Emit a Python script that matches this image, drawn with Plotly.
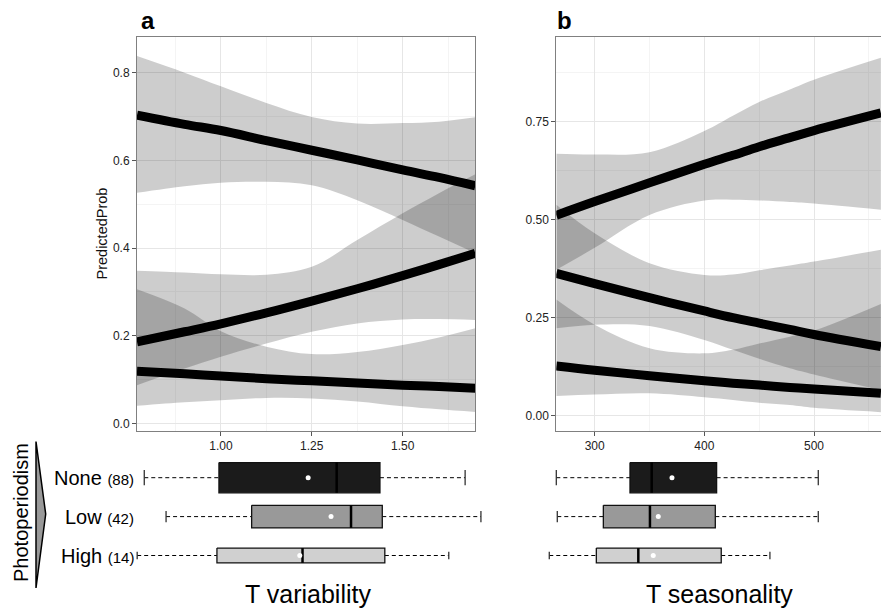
import plotly.graph_objects as go

# ---------------- data ----------------
# Panel a: predicted probability vs temperature variability
xa = [0.769, 0.9, 1.0, 1.125, 1.25, 1.375, 1.5, 1.6, 1.7]
a_top_fit = [0.703, 0.682, 0.668, 0.645, 0.623, 0.601, 0.578, 0.561, 0.542]
a_top_hi = [0.838, 0.800, 0.769, 0.731, 0.699, 0.684, 0.685, 0.688, 0.698]
a_top_lo = [0.526, 0.541, 0.549, 0.551, 0.543, 0.509, 0.464, 0.426, 0.388]
a_mid_fit = [0.186, 0.209, 0.227, 0.252, 0.279, 0.307, 0.337, 0.362, 0.388]
a_mid_hi = [0.348, 0.344, 0.340, 0.339, 0.357, 0.418, 0.479, 0.525, 0.568]
a_mid_lo = [0.087, 0.125, 0.152, 0.182, 0.209, 0.228, 0.237, 0.238, 0.236]
a_bot_fit = [0.119, 0.113, 0.108, 0.102, 0.097, 0.092, 0.087, 0.084, 0.080]
a_bot_hi = [0.306, 0.262, 0.210, 0.175, 0.158, 0.163, 0.179, 0.196, 0.217]
a_bot_lo = [0.040, 0.048, 0.053, 0.058, 0.057, 0.050, 0.039, 0.032, 0.026]

# Panel b: predicted probability vs temperature seasonality
xb = [265, 300, 350, 400, 426, 450, 478, 500, 561]
b_top_fit = [0.511, 0.546, 0.594, 0.641, 0.664, 0.686, 0.709, 0.727, 0.772]
b_top_hi = [0.668, 0.666, 0.672, 0.726, 0.765, 0.800, 0.832, 0.857, 0.913]
b_top_lo = [0.372, 0.428, 0.512, 0.549, 0.551, 0.549, 0.545, 0.541, 0.525]
b_mid_fit = [0.363, 0.337, 0.301, 0.267, 0.250, 0.236, 0.220, 0.207, 0.176]
b_mid_hi = [0.538, 0.465, 0.389, 0.359, 0.360, 0.371, 0.383, 0.393, 0.423]
b_mid_lo = [0.223, 0.232, 0.229, 0.193, 0.168, 0.145, 0.121, 0.105, 0.065]
b_bot_fit = [0.127, 0.116, 0.102, 0.089, 0.083, 0.078, 0.072, 0.068, 0.057]
b_bot_hi = [0.296, 0.232, 0.172, 0.159, 0.168, 0.184, 0.2015, 0.217, 0.285]
b_bot_lo = [0.050, 0.054, 0.057, 0.047, 0.040, 0.033, 0.027, 0.020, 0.009]

# Photoperiodism groups and sample sizes
groups = ["None", "Low", "High"]
group_n = [88, 42, 14]

# Box summaries for T variability
var_lo = [0.789, 0.849, 0.7695]
var_q1 = [0.9945, 1.0845, 0.989]
var_med = [1.3185, 1.358, 1.2245]
var_mean = [1.240, 1.303, 1.217]
var_q3 = [1.4376, 1.444, 1.451]
var_hi = [1.672, 1.7155, 1.627]

# Box summaries for T seasonality
sea_lo = [265.0, 265.9, 258.6]
sea_q1 = [332.2, 307.9, 301.5]
sea_med = [352.0, 350.4, 339.8]
sea_mean = [370.5, 358.0, 353.4]
sea_q3 = [411.2, 410.0, 415.4]
sea_hi = [503.9, 503.9, 459.8]
sea_out_x = [528.8, 559.2]
sea_out_group = ["None", "None"]

# ---------------- layout geometry ----------------
W, H = 881, 609
FONT = "Liberation Sans, Arial, Helvetica, sans-serif"


def px_x(p):
    return p / W


def px_y(p):
    return 1 - p / H


A_DOM = (137, 475.3)
B_DOM = (556.3, 881)
A_RANGE = (0.769, 1.700)
B_RANGE = (265.0, 561.1)
PANEL_Y = (37.3, 430.7)

BOX_FILL = {"None": "#1b1b1b", "Low": "#999999", "High": "#d0d0d0"}
BOX_HALF = {"None": 0.39, "Low": 0.29, "High": 0.19}
BAND = "rgba(0,0,0,0.195)"
GRID = "#e6e6e6"
GRID_MINOR = "#f4f4f4"
BORDER = "#808080"

fig = go.Figure()


def add_band(x, lo, hi, xa_, ya_):
    fig.add_trace(go.Scatter(x=x, y=lo, mode="lines", line=dict(width=0, shape="spline"),
                             xaxis=xa_, yaxis=ya_, showlegend=False, hoverinfo="skip"))
    fig.add_trace(go.Scatter(x=x, y=hi, mode="lines", line=dict(width=0, shape="spline"),
                             fill="tonexty", fillcolor=BAND,
                             xaxis=xa_, yaxis=ya_, showlegend=False, hoverinfo="skip"))


def add_fit(x, y, xa_, ya_):
    fig.add_trace(go.Scatter(x=x, y=y, mode="lines",
                             line=dict(color="black", width=9, shape="spline"),
                             xaxis=xa_, yaxis=ya_, showlegend=False))


for lo, hi in [(a_top_lo, a_top_hi), (a_mid_lo, a_mid_hi), (a_bot_lo, a_bot_hi)]:
    add_band(xa, lo, hi, "x", "y")
for fit in [a_top_fit, a_mid_fit, a_bot_fit]:
    add_fit(xa, fit, "x", "y")

for lo, hi in [(b_top_lo, b_top_hi), (b_mid_lo, b_mid_hi), (b_bot_lo, b_bot_hi)]:
    add_band(xb, lo, hi, "x2", "y2")
for fit in [b_top_fit, b_mid_fit, b_bot_fit]:
    add_fit(xb, fit, "x2", "y2")


def add_boxes(lo, q1, med, mean, q3, hi, xa_, ya_):
    for i, g in enumerate(groups):
        h = BOX_HALF[g]
        # whiskers
        fig.add_trace(go.Scatter(x=[lo[i], q1[i], None, q3[i], hi[i]], y=[i, i, None, i, i],
                                 mode="lines", line=dict(color="black", width=1, dash="4px,3px"),
                                 xaxis=xa_, yaxis=ya_, showlegend=False, hoverinfo="skip"))
        # staples
        fig.add_trace(go.Scatter(x=[lo[i], lo[i], None, hi[i], hi[i]],
                                 y=[i - h / 2, i + h / 2, None, i - h / 2, i + h / 2],
                                 mode="lines", line=dict(color="#333333", width=1.3),
                                 xaxis=xa_, yaxis=ya_, showlegend=False, hoverinfo="skip"))
        # box
        fig.add_trace(go.Scatter(x=[q1[i], q3[i], q3[i], q1[i], q1[i]],
                                 y=[i - h, i - h, i + h, i + h, i - h],
                                 mode="lines", fill="toself", fillcolor=BOX_FILL[g],
                                 line=dict(color="#111111", width=1.3),
                                 xaxis=xa_, yaxis=ya_, showlegend=False, hoverinfo="skip"))
        # median
        fig.add_trace(go.Scatter(x=[med[i], med[i]], y=[i - h, i + h], mode="lines",
                                 line=dict(color="black", width=2.5),
                                 xaxis=xa_, yaxis=ya_, showlegend=False, hoverinfo="skip"))
    # means
    fig.add_trace(go.Scatter(x=mean, y=list(range(len(groups))), mode="markers",
                             marker=dict(color="white", size=5, symbol="circle"),
                             xaxis=xa_, yaxis=ya_, showlegend=False))


add_boxes(var_lo, var_q1, var_med, var_mean, var_q3, var_hi, "x3", "y3")
add_boxes(sea_lo, sea_q1, sea_med, sea_mean, sea_q3, sea_hi, "x4", "y4")
fig.add_trace(go.Scatter(x=sea_out_x, y=[groups.index(g) for g in sea_out_group], mode="markers",
                         marker=dict(color="white", size=6, symbol="circle-open",
                                     line=dict(color="black", width=1)),
                         xaxis="x4", yaxis="y4", showlegend=False))

# box-plot axes share the scale of the panels above but span a wider strip
sa = (A_RANGE[1] - A_RANGE[0]) / (A_DOM[1] - A_DOM[0])
sb = (B_RANGE[1] - B_RANGE[0]) / (B_DOM[1] - B_DOM[0])
BOX_A_DOM = (90, 515)
BOX_B_DOM = (515, 881)
box_a_range = [A_RANGE[0] + (BOX_A_DOM[0] - A_DOM[0]) * sa, A_RANGE[0] + (BOX_A_DOM[1] - A_DOM[0]) * sa]
box_b_range = [B_RANGE[0] + (BOX_B_DOM[0] - B_DOM[0]) * sb, B_RANGE[1]]

# rows: None at 477.7px, High at 555.5px
row_top, row_bot = 477.7, 555.5
step = (row_bot - row_top) / 2
BOX_Y_DOM = [px_y(row_bot + 0.5 * step), px_y(row_top - 0.5 * step)]

tickfont = dict(family=FONT, size=12, color="#222222")
common_x = dict(showline=True, linecolor=BORDER, linewidth=1, ticks="outside", ticklen=4,
                tickcolor="#555555", tickfont=tickfont, showgrid=True, gridcolor=GRID,
                gridwidth=1, zeroline=False)
common_y = dict(common_x)

panel_y_dom = [px_y(PANEL_Y[1]), px_y(PANEL_Y[0])]

fig.update_layout(
    width=W, height=H, margin=dict(l=0, r=0, t=0, b=0),
    paper_bgcolor="white", plot_bgcolor="white",
    font=dict(family=FONT, color="black"),
    xaxis=dict(common_x, domain=[px_x(A_DOM[0]), px_x(A_DOM[1])], range=list(A_RANGE),
               tick0=1.0, dtick=0.25, tickformat=".2f", mirror=True, anchor="y",
               minor=dict(tick0=0.875, dtick=0.25, showgrid=True, gridcolor=GRID_MINOR)),
    yaxis=dict(common_y, domain=panel_y_dom, range=[-0.0167, 0.8806],
               tick0=0, dtick=0.2, tickformat=".1f", mirror=True, anchor="x",
               minor=dict(tick0=0.1, dtick=0.2, showgrid=True, gridcolor=GRID_MINOR)),
    xaxis2=dict(common_x, domain=[px_x(B_DOM[0]), 1.0], range=list(B_RANGE),
                tick0=300, dtick=100, mirror=True, anchor="y2",
                minor=dict(tick0=250, dtick=100, showgrid=True, gridcolor=GRID_MINOR)),
    yaxis2=dict(common_y, domain=panel_y_dom, range=[-0.0383, 0.965],
                tick0=0, dtick=0.25, tickformat=".2f", mirror=False, anchor="x2",
                minor=dict(tick0=0.125, dtick=0.25, showgrid=True, gridcolor=GRID_MINOR)),
    xaxis3=dict(domain=[px_x(BOX_A_DOM[0]), px_x(BOX_A_DOM[1])], range=box_a_range,
                visible=False, anchor="y3"),
    yaxis3=dict(domain=BOX_Y_DOM, range=[2.5, -0.5], visible=False, anchor="x3"),
    xaxis4=dict(domain=[px_x(BOX_B_DOM[0]), px_x(BOX_B_DOM[1])], range=box_b_range,
                visible=False, anchor="y4"),
    yaxis4=dict(domain=BOX_Y_DOM, range=[2.5, -0.5], visible=False, anchor="x4"),
)


def label(text, x, y, size, xanchor="center", yref="paper", angle=0, color="black"):
    return dict(text=text, x=px_x(x), y=(px_y(y) if yref == "paper" else y),
                xref="paper", yref=yref, xanchor=xanchor, yanchor="middle",
                textangle=angle, showarrow=False, font=dict(size=size, color=color))


ann = [
    # panel letters
    label("<b>a</b>", 139, 21, 24, xanchor="left"),
    label("<b>b</b>", 555, 21, 24, xanchor="left"),
    # y-axis title
    label("PredictedProb", 101.5, 234, 14.5, angle=-90, color="#111111"),
    label("Photoperiodism", 21, 513, 20, angle=-90),
    # box-plot axis titles
    label("T variability", 307.5, 594, 25),
    label("T seasonality", 719.5, 594, 25),
]
# group labels
for i, (g, n) in enumerate(zip(groups, group_n)):
    ann.append(label(f"{g} <span style='font-size:15px'>({n})</span>", 136, i, 20,
                     xanchor="right", yref="y3"))
fig.update_layout(annotations=ann)

# wedge marking the photoperiodism gradient
p = [(36, 441.5), (45.7, 514), (36, 588)]
path = "M {} {} L {} {} L {} {} Z".format(*[v for pt in p for v in (px_x(pt[0]), px_y(pt[1]))])
fig.add_shape(type="path", path=path, xref="paper", yref="paper",
              fillcolor="#999999", line=dict(color="black", width=1.5))

fig.write_html("out.html")
